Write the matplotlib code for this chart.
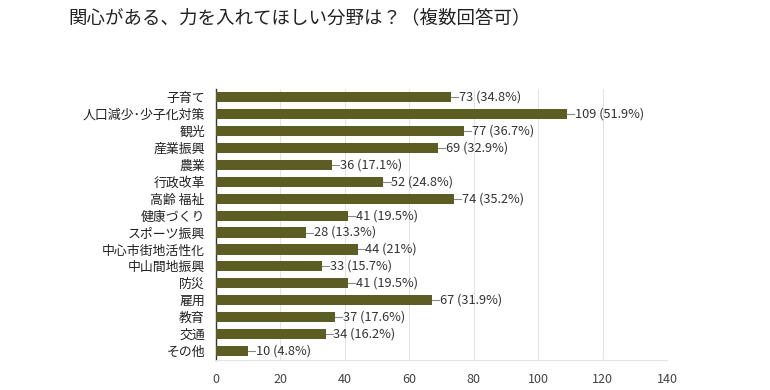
import matplotlib
matplotlib.use('Agg')
import matplotlib.pyplot as plt

plt.rcParams['font.family'] = ['Noto Sans CJK JP', 'DejaVu Sans']

title = '関心がある、力を入れてほしい分野は？（複数回答可）'
cats = ['子育て', '人口減少･少子化対策', '観光', '産業振興', '農業', '行政改革', '高齢 福祉',
        '健康づくり', 'スポーツ振興', '中心市街地活性化', '中山間地振興', '防災', '雇用',
        '教育', '交通', 'その他']
vals = [73, 109, 77, 69, 36, 52, 74, 41, 28, 44, 33, 41, 67, 37, 34, 10]
pcts = ['34.8', '51.9', '36.7', '32.9', '17.1', '24.8', '35.2', '19.5', '13.3', '21',
        '15.7', '19.5', '31.9', '17.6', '16.2', '4.8']
xticks = [0, 20, 40, 60, 80, 100, 120, 140]

fig = plt.figure(figsize=(7.7, 3.9), dpi=100)
ax = fig.add_axes([0.2805, 0.078, 0.5857, 0.695])

y = list(range(len(cats)))
ax.barh(y, vals, height=0.6, color='#5b5d23', zorder=3)
for yi, v, p in zip(y, vals, pcts):
    ax.plot([v, v + 2.2], [yi, yi], color='#888888', lw=0.8, zorder=3)
    ax.text(v + 2.4, yi, '%d (%s%%)' % (v, p), va='center', ha='left',
            fontsize=9.2, color='#333333')

ax.set_xlim(0, 140)
ax.set_ylim(len(cats) - 0.5, -0.5)
ax.set_yticks(y)
ax.set_yticklabels(cats, fontsize=9.3, color='#222222')
ax.set_xticks(xticks)
ax.set_xticklabels([str(t) for t in xticks], fontsize=9, color='#444444')
ax.tick_params(length=0)
ax.tick_params(axis='x', pad=10)
ax.tick_params(axis='y', pad=8)
ax.grid(axis='x', color='#e4e4e4', lw=0.8, zorder=0)
for s in ['top', 'right']:
    ax.spines[s].set_visible(False)
ax.spines['bottom'].set_color('#e4e4e4')
ax.spines['left'].set_color('#333333')
ax.spines['left'].set_linewidth(1.0)

fig.text(68 / 770, 1 - 18 / 390, title, fontsize=13.3, color='#222222', va='center', ha='left')

plt.savefig('out.png', dpi=100)
